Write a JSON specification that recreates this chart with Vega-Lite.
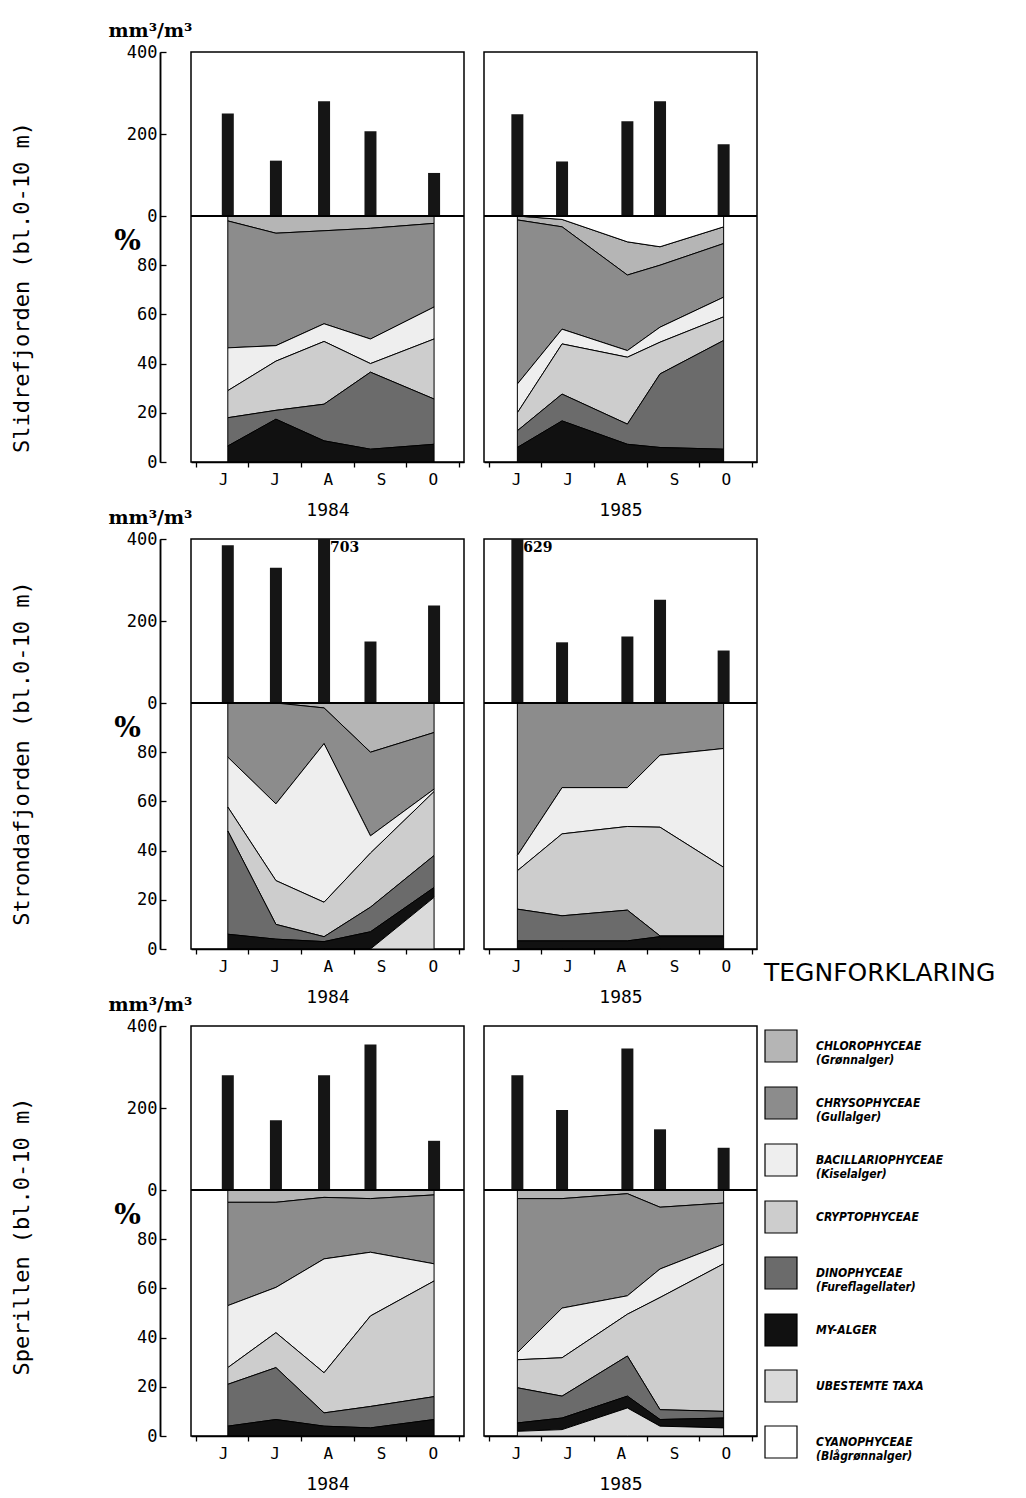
{
  "$schema": "https://vega.github.io/schema/vega-lite/v6.json",
  "background": "white",
  "padding": {"left": 9, "top": 20, "right": 5, "bottom": 5},
  "data": {"values": [
    {"lake":"Slidrefjorden","year":1984,"date":"1984-06-19T12:00","vol":250,"CHLOROPHYCEAE (Grønnalger)":2,"CHRYSOPHYCEAE (Gullalger)":51.6,"BACILLARIOPHYCEAE (Kiselalger)":17.4,"CRYPTOPHYCEAE":11,"DINOPHYCEAE (Fureflagellater)":11.5,"MY-ALGER":6.5,"UBESTEMTE TAXA":0,"CYANOPHYCEAE (Blågrønnalger)":0},
    {"lake":"Slidrefjorden","year":1984,"date":"1984-07-17T12:00","vol":135,"CHLOROPHYCEAE (Grønnalger)":7,"CHRYSOPHYCEAE (Gullalger)":45.7,"BACILLARIOPHYCEAE (Kiselalger)":6.3,"CRYPTOPHYCEAE":20,"DINOPHYCEAE (Fureflagellater)":3.6,"MY-ALGER":17.4,"UBESTEMTE TAXA":0,"CYANOPHYCEAE (Blågrønnalger)":0},
    {"lake":"Slidrefjorden","year":1984,"date":"1984-08-14T12:00","vol":280,"CHLOROPHYCEAE (Grønnalger)":6,"CHRYSOPHYCEAE (Gullalger)":37.8,"BACILLARIOPHYCEAE (Kiselalger)":7.2,"CRYPTOPHYCEAE":25.5,"DINOPHYCEAE (Fureflagellater)":14.9,"MY-ALGER":8.6,"UBESTEMTE TAXA":0,"CYANOPHYCEAE (Blågrønnalger)":0},
    {"lake":"Slidrefjorden","year":1984,"date":"1984-09-10T12:00","vol":207,"CHLOROPHYCEAE (Grønnalger)":5,"CHRYSOPHYCEAE (Gullalger)":45,"BACILLARIOPHYCEAE (Kiselalger)":10,"CRYPTOPHYCEAE":3.5,"DINOPHYCEAE (Fureflagellater)":31.3,"MY-ALGER":5.2,"UBESTEMTE TAXA":0,"CYANOPHYCEAE (Blågrønnalger)":0},
    {"lake":"Slidrefjorden","year":1984,"date":"1984-10-17T12:00","vol":105,"CHLOROPHYCEAE (Grønnalger)":3,"CHRYSOPHYCEAE (Gullalger)":34,"BACILLARIOPHYCEAE (Kiselalger)":13,"CRYPTOPHYCEAE":24.4,"DINOPHYCEAE (Fureflagellater)":18.4,"MY-ALGER":7.2,"UBESTEMTE TAXA":0,"CYANOPHYCEAE (Blågrønnalger)":0},
    {"lake":"Slidrefjorden","year":1985,"date":"1985-06-17T12:00","vol":248,"CHLOROPHYCEAE (Grønnalger)":1.6,"CHRYSOPHYCEAE (Gullalger)":66.7,"BACILLARIOPHYCEAE (Kiselalger)":11.7,"CRYPTOPHYCEAE":7.3,"DINOPHYCEAE (Fureflagellater)":6.8,"MY-ALGER":5.9,"UBESTEMTE TAXA":0,"CYANOPHYCEAE (Blågrønnalger)":0},
    {"lake":"Slidrefjorden","year":1985,"date":"1985-07-13T12:00","vol":133,"CHLOROPHYCEAE (Grønnalger)":3,"CHRYSOPHYCEAE (Gullalger)":41.6,"BACILLARIOPHYCEAE (Kiselalger)":6,"CRYPTOPHYCEAE":20.4,"DINOPHYCEAE (Fureflagellater)":10.9,"MY-ALGER":16.7,"UBESTEMTE TAXA":0,"CYANOPHYCEAE (Blågrønnalger)":1.4},
    {"lake":"Slidrefjorden","year":1985,"date":"1985-08-20T12:00","vol":231,"CHLOROPHYCEAE (Grønnalger)":13.5,"CHRYSOPHYCEAE (Gullalger)":30.7,"BACILLARIOPHYCEAE (Kiselalger)":2.7,"CRYPTOPHYCEAE":27.2,"DINOPHYCEAE (Fureflagellater)":8.2,"MY-ALGER":7.2,"UBESTEMTE TAXA":0,"CYANOPHYCEAE (Blågrønnalger)":10.5},
    {"lake":"Slidrefjorden","year":1985,"date":"1985-09-08T12:00","vol":280,"CHLOROPHYCEAE (Grønnalger)":7.5,"CHRYSOPHYCEAE (Gullalger)":25.2,"BACILLARIOPHYCEAE (Kiselalger)":6.1,"CRYPTOPHYCEAE":12.9,"DINOPHYCEAE (Fureflagellater)":29.9,"MY-ALGER":5.9,"UBESTEMTE TAXA":0,"CYANOPHYCEAE (Blågrønnalger)":12.5},
    {"lake":"Slidrefjorden","year":1985,"date":"1985-10-15T12:00","vol":175,"CHLOROPHYCEAE (Grønnalger)":6.8,"CHRYSOPHYCEAE (Gullalger)":21.8,"BACILLARIOPHYCEAE (Kiselalger)":8,"CRYPTOPHYCEAE":9.6,"DINOPHYCEAE (Fureflagellater)":44.2,"MY-ALGER":5.2,"UBESTEMTE TAXA":0,"CYANOPHYCEAE (Blågrønnalger)":4.4},
    {"lake":"Strondafjorden","year":1984,"date":"1984-06-19T12:00","vol":385,"CHLOROPHYCEAE (Grønnalger)":0,"CHRYSOPHYCEAE (Gullalger)":22,"BACILLARIOPHYCEAE (Kiselalger)":20.3,"CRYPTOPHYCEAE":9.7,"DINOPHYCEAE (Fureflagellater)":42,"MY-ALGER":6,"UBESTEMTE TAXA":0,"CYANOPHYCEAE (Blågrønnalger)":0},
    {"lake":"Strondafjorden","year":1984,"date":"1984-07-17T12:00","vol":330,"CHLOROPHYCEAE (Grønnalger)":0,"CHRYSOPHYCEAE (Gullalger)":41,"BACILLARIOPHYCEAE (Kiselalger)":31.2,"CRYPTOPHYCEAE":17.8,"DINOPHYCEAE (Fureflagellater)":6,"MY-ALGER":4,"UBESTEMTE TAXA":0,"CYANOPHYCEAE (Blågrønnalger)":0},
    {"lake":"Strondafjorden","year":1984,"date":"1984-08-14T12:00","vol":703,"CHLOROPHYCEAE (Grønnalger)":2,"CHRYSOPHYCEAE (Gullalger)":14.5,"BACILLARIOPHYCEAE (Kiselalger)":64.5,"CRYPTOPHYCEAE":14,"DINOPHYCEAE (Fureflagellater)":2,"MY-ALGER":3,"UBESTEMTE TAXA":0,"CYANOPHYCEAE (Blågrønnalger)":0},
    {"lake":"Strondafjorden","year":1984,"date":"1984-09-10T12:00","vol":150,"CHLOROPHYCEAE (Grønnalger)":20,"CHRYSOPHYCEAE (Gullalger)":34,"BACILLARIOPHYCEAE (Kiselalger)":7,"CRYPTOPHYCEAE":22,"DINOPHYCEAE (Fureflagellater)":10,"MY-ALGER":7,"UBESTEMTE TAXA":0,"CYANOPHYCEAE (Blågrønnalger)":0},
    {"lake":"Strondafjorden","year":1984,"date":"1984-10-17T12:00","vol":238,"CHLOROPHYCEAE (Grønnalger)":12,"CHRYSOPHYCEAE (Gullalger)":23,"BACILLARIOPHYCEAE (Kiselalger)":1,"CRYPTOPHYCEAE":26,"DINOPHYCEAE (Fureflagellater)":13,"MY-ALGER":4,"UBESTEMTE TAXA":21,"CYANOPHYCEAE (Blågrønnalger)":0},
    {"lake":"Strondafjorden","year":1985,"date":"1985-06-17T12:00","vol":629,"CHLOROPHYCEAE (Grønnalger)":0,"CHRYSOPHYCEAE (Gullalger)":62,"BACILLARIOPHYCEAE (Kiselalger)":6.2,"CRYPTOPHYCEAE":15.6,"DINOPHYCEAE (Fureflagellater)":12.9,"MY-ALGER":3.3,"UBESTEMTE TAXA":0,"CYANOPHYCEAE (Blågrønnalger)":0},
    {"lake":"Strondafjorden","year":1985,"date":"1985-07-13T12:00","vol":148,"CHLOROPHYCEAE (Grønnalger)":0,"CHRYSOPHYCEAE (Gullalger)":34.4,"BACILLARIOPHYCEAE (Kiselalger)":18.8,"CRYPTOPHYCEAE":33.3,"DINOPHYCEAE (Fureflagellater)":10.2,"MY-ALGER":3.3,"UBESTEMTE TAXA":0,"CYANOPHYCEAE (Blågrønnalger)":0},
    {"lake":"Strondafjorden","year":1985,"date":"1985-08-20T12:00","vol":162,"CHLOROPHYCEAE (Grønnalger)":0,"CHRYSOPHYCEAE (Gullalger)":34.4,"BACILLARIOPHYCEAE (Kiselalger)":15.8,"CRYPTOPHYCEAE":34,"DINOPHYCEAE (Fureflagellater)":12.5,"MY-ALGER":3.3,"UBESTEMTE TAXA":0,"CYANOPHYCEAE (Blågrønnalger)":0},
    {"lake":"Strondafjorden","year":1985,"date":"1985-09-08T12:00","vol":252,"CHLOROPHYCEAE (Grønnalger)":0,"CHRYSOPHYCEAE (Gullalger)":21.2,"BACILLARIOPHYCEAE (Kiselalger)":29.3,"CRYPTOPHYCEAE":44.2,"DINOPHYCEAE (Fureflagellater)":0.3,"MY-ALGER":5,"UBESTEMTE TAXA":0,"CYANOPHYCEAE (Blågrønnalger)":0},
    {"lake":"Strondafjorden","year":1985,"date":"1985-10-15T12:00","vol":128,"CHLOROPHYCEAE (Grønnalger)":0,"CHRYSOPHYCEAE (Gullalger)":18.5,"BACILLARIOPHYCEAE (Kiselalger)":48.3,"CRYPTOPHYCEAE":27.9,"DINOPHYCEAE (Fureflagellater)":0.3,"MY-ALGER":5,"UBESTEMTE TAXA":0,"CYANOPHYCEAE (Blågrønnalger)":0},
    {"lake":"Sperillen","year":1984,"date":"1984-06-19T12:00","vol":280,"CHLOROPHYCEAE (Grønnalger)":5,"CHRYSOPHYCEAE (Gullalger)":42,"BACILLARIOPHYCEAE (Kiselalger)":25.2,"CRYPTOPHYCEAE":6.8,"DINOPHYCEAE (Fureflagellater)":17,"MY-ALGER":4,"UBESTEMTE TAXA":0,"CYANOPHYCEAE (Blågrønnalger)":0},
    {"lake":"Sperillen","year":1984,"date":"1984-07-17T12:00","vol":170,"CHLOROPHYCEAE (Grønnalger)":5,"CHRYSOPHYCEAE (Gullalger)":34.6,"BACILLARIOPHYCEAE (Kiselalger)":18.4,"CRYPTOPHYCEAE":14.2,"DINOPHYCEAE (Fureflagellater)":21.1,"MY-ALGER":6.7,"UBESTEMTE TAXA":0,"CYANOPHYCEAE (Blågrønnalger)":0},
    {"lake":"Sperillen","year":1984,"date":"1984-08-14T12:00","vol":280,"CHLOROPHYCEAE (Grønnalger)":3,"CHRYSOPHYCEAE (Gullalger)":25,"BACILLARIOPHYCEAE (Kiselalger)":46.3,"CRYPTOPHYCEAE":16.3,"DINOPHYCEAE (Fureflagellater)":5.4,"MY-ALGER":4,"UBESTEMTE TAXA":0,"CYANOPHYCEAE (Blågrønnalger)":0},
    {"lake":"Sperillen","year":1984,"date":"1984-09-10T12:00","vol":355,"CHLOROPHYCEAE (Grønnalger)":3.5,"CHRYSOPHYCEAE (Gullalger)":21.8,"BACILLARIOPHYCEAE (Kiselalger)":25.9,"CRYPTOPHYCEAE":36.8,"DINOPHYCEAE (Fureflagellater)":8.7,"MY-ALGER":3.3,"UBESTEMTE TAXA":0,"CYANOPHYCEAE (Blågrønnalger)":0},
    {"lake":"Sperillen","year":1984,"date":"1984-10-17T12:00","vol":120,"CHLOROPHYCEAE (Grønnalger)":2,"CHRYSOPHYCEAE (Gullalger)":28,"BACILLARIOPHYCEAE (Kiselalger)":7,"CRYPTOPHYCEAE":47,"DINOPHYCEAE (Fureflagellater)":9.3,"MY-ALGER":6.7,"UBESTEMTE TAXA":0,"CYANOPHYCEAE (Blågrønnalger)":0},
    {"lake":"Sperillen","year":1985,"date":"1985-06-17T12:00","vol":280,"CHLOROPHYCEAE (Grønnalger)":3.5,"CHRYSOPHYCEAE (Gullalger)":62.6,"BACILLARIOPHYCEAE (Kiselalger)":2.9,"CRYPTOPHYCEAE":11.4,"DINOPHYCEAE (Fureflagellater)":14.3,"MY-ALGER":3.4,"UBESTEMTE TAXA":1.9,"CYANOPHYCEAE (Blågrønnalger)":0},
    {"lake":"Sperillen","year":1985,"date":"1985-07-13T12:00","vol":195,"CHLOROPHYCEAE (Grønnalger)":3.5,"CHRYSOPHYCEAE (Gullalger)":44.5,"BACILLARIOPHYCEAE (Kiselalger)":20.2,"CRYPTOPHYCEAE":15.6,"DINOPHYCEAE (Fureflagellater)":8.9,"MY-ALGER":4.7,"UBESTEMTE TAXA":2.6,"CYANOPHYCEAE (Blågrønnalger)":0},
    {"lake":"Sperillen","year":1985,"date":"1985-08-20T12:00","vol":345,"CHLOROPHYCEAE (Grønnalger)":1.5,"CHRYSOPHYCEAE (Gullalger)":41.5,"BACILLARIOPHYCEAE (Kiselalger)":7.5,"CRYPTOPHYCEAE":17,"DINOPHYCEAE (Fureflagellater)":16.3,"MY-ALGER":4.8,"UBESTEMTE TAXA":11.4,"CYANOPHYCEAE (Blågrønnalger)":0},
    {"lake":"Sperillen","year":1985,"date":"1985-09-08T12:00","vol":148,"CHLOROPHYCEAE (Grønnalger)":7,"CHRYSOPHYCEAE (Gullalger)":25.1,"BACILLARIOPHYCEAE (Kiselalger)":11.6,"CRYPTOPHYCEAE":45.6,"DINOPHYCEAE (Fureflagellater)":4,"MY-ALGER":2.7,"UBESTEMTE TAXA":4,"CYANOPHYCEAE (Blågrønnalger)":0},
    {"lake":"Sperillen","year":1985,"date":"1985-10-15T12:00","vol":103,"CHLOROPHYCEAE (Grønnalger)":5.3,"CHRYSOPHYCEAE (Gullalger)":16.7,"BACILLARIOPHYCEAE (Kiselalger)":8,"CRYPTOPHYCEAE":60,"DINOPHYCEAE (Fureflagellater)":2.7,"MY-ALGER":4,"UBESTEMTE TAXA":3.3,"CYANOPHYCEAE (Blågrønnalger)":0}
  ]},
  "config": {
    "view": {"stroke": "black", "strokeWidth": 1.5},
    "font": "DejaVu Sans Mono",
    "axis": {"grid": false, "domainColor": "black", "domainWidth": 1.5, "tickColor": "black", "tickWidth": 1.3, "labelColor": "black", "titleColor": "black", "labelFont": "DejaVu Sans Mono", "titleFont": "DejaVu Sans Mono", "titleFontWeight": "normal"}
  },
  "bounds": "flush",
  "columns": 2,
  "spacing": {"row": 77, "column": 20},
  "concat": [
    {
      "width": 273, "height": 410,
      "transform": [{"filter": "datum.lake === 'Slidrefjorden' && datum.year === 1984"}],
      "layer": [
        {
          "transform": [
            {"fold": ["CHLOROPHYCEAE (Grønnalger)","CHRYSOPHYCEAE (Gullalger)","BACILLARIOPHYCEAE (Kiselalger)","CRYPTOPHYCEAE","DINOPHYCEAE (Fureflagellater)","MY-ALGER","UBESTEMTE TAXA","CYANOPHYCEAE (Blågrønnalger)"], "as": ["group", "pct"]},
            {"calculate": "indexof(['UBESTEMTE TAXA','MY-ALGER','DINOPHYCEAE (Fureflagellater)','CRYPTOPHYCEAE','BACILLARIOPHYCEAE (Kiselalger)','CHRYSOPHYCEAE (Gullalger)','CHLOROPHYCEAE (Grønnalger)','CYANOPHYCEAE (Blågrønnalger)'], datum.group)", "as": "stackOrder"}
          ],
          "mark": {"type": "area", "stroke": "black", "strokeWidth": 1, "fillOpacity": 1},
          "encoding": {
            "x": {"field": "date", "type": "temporal", "scale": {"domain": [{"year":1984,"month":6,"date":1},{"year":1984,"month":11,"date":1}], "nice": false},
                  "axis": {"title": "1984", "tickCount": {"interval": "month", "step": 1}, "labelExpr": "month(datum.value) == 10 ? '' : substring(timeFormat(datum.value, '%B'), 0, 1)", "labelOffset": 27, "labelFlush": false, "labelOverlap": false, "labelPadding": 4, "tickSize": 5, "labelFontSize": 16, "titleFontSize": 18, "titlePadding": 14}},
            "y": {"field": "pct", "type": "quantitative", "stack": "zero", "scale": {"domain": [0, 166.67], "nice": false},
                  "axis": {"orient": "left", "offset": 31, "values": [0,20,40,60,80], "tickSize": -6, "labelPadding": 9, "labelFontSize": 17, "title": "%", "titleAngle": 0, "titleFont": "DejaVu Serif", "titleFontWeight": "bold", "titleFontSize": 28, "titleAlign": "center", "titleBaseline": "middle", "titleX": -33, "titleY": 189}},
            "color": {"field": "group", "type": "nominal", "title": "TEGNFORKLARING",
                      "scale": {"domain": ["CHLOROPHYCEAE (Grønnalger)","CHRYSOPHYCEAE (Gullalger)","BACILLARIOPHYCEAE (Kiselalger)","CRYPTOPHYCEAE","DINOPHYCEAE (Fureflagellater)","MY-ALGER","UBESTEMTE TAXA","CYANOPHYCEAE (Blågrønnalger)"], "range": ["#b5b5b5","#8c8c8c","#eeeeee","#cdcdcd","#6b6b6b","#111111","#dadada","#ffffff"]},
                      "legend": {"orient": "none", "legendX": 573, "legendY": 909, "padding": 0, "symbolType": "square", "symbolSize": 1024, "symbolStrokeColor": "black", "symbolStrokeWidth": 1.2, "symbolOpacity": 1, "labelFont": "DejaVu Sans Condensed, DejaVu Sans", "labelFontStyle": "italic", "labelFontWeight": "bold", "labelFontSize": 12, "labelColor": "black", "labelOffset": 18, "labelLimit": 400, "rowPadding": 18, "titleFont": "DejaVu Sans", "titleFontSize": 25, "titleFontWeight": "normal", "titleColor": "black", "titlePadding": 43, "titleLimit": 400, "labelExpr": "indexof(datum.label, ' (') > 0 ? [substring(datum.label, 0, indexof(datum.label, ' (')), substring(datum.label, indexof(datum.label, ' (') + 1)] : datum.label"}},
            "order": {"field": "stackOrder", "type": "quantitative"}
          }
        },
        {
          "mark": {"type": "bar", "color": "#151515", "size": 12},
          "encoding": {
            "x": {"field": "date", "type": "temporal", "scale": {"domain": [{"year":1984,"month":6,"date":1},{"year":1984,"month":11,"date":1}], "nice": false}},
            "y": {"field": "vol", "type": "quantitative", "scale": {"domain": [-600, 400], "clamp": true, "nice": false},
                  "axis": {"orient": "left", "offset": 31, "values": [0,200,400], "tickSize": -6, "labelPadding": 9, "labelFontSize": 17, "title": "mm³/m³", "titleAngle": 0, "titleFont": "DejaVu Serif", "titleFontWeight": "bold", "titleFontSize": 19, "titleAlign": "left", "titleBaseline": "alphabetic", "titleX": -52, "titleY": -16}}
          }
        },
        {
          "transform": [{"filter": "datum.vol > 400"}],
          "mark": {"type": "text", "align": "left", "baseline": "top", "dx": 6, "dy": 2, "font": "DejaVu Serif", "fontWeight": "bold", "fontSize": 14, "color": "black"},
          "encoding": {
            "x": {"field": "date", "type": "temporal", "scale": {"domain": [{"year":1984,"month":6,"date":1},{"year":1984,"month":11,"date":1}], "nice": false}},
            "y": {"field": "vol", "type": "quantitative", "scale": {"domain": [-600, 400], "clamp": true, "nice": false}, "axis": null},
            "text": {"field": "vol", "type": "quantitative"}
          }
        },
        {
          "mark": {"type": "rule", "color": "black", "strokeWidth": 1.5},
          "encoding": {"y": {"datum": 0, "type": "quantitative", "scale": {"domain": [-600, 400], "nice": false},
                             "axis": {"orient": "left", "offset": 31, "domain": false, "ticks": false, "labels": false, "title": "Slidrefjorden (bl.0-10 m)", "titleAngle": -90, "titleAlign": "center", "titleBaseline": "middle", "titleX": -139, "titleY": 235, "titleFontSize": 22}}}
        }
      ],
      "resolve": {"scale": {"y": "independent"}}
    },
    {
      "width": 273, "height": 410,
      "transform": [{"filter": "datum.lake === 'Slidrefjorden' && datum.year === 1985"}],
      "layer": [
        {
          "transform": [
            {"fold": ["CHLOROPHYCEAE (Grønnalger)","CHRYSOPHYCEAE (Gullalger)","BACILLARIOPHYCEAE (Kiselalger)","CRYPTOPHYCEAE","DINOPHYCEAE (Fureflagellater)","MY-ALGER","UBESTEMTE TAXA","CYANOPHYCEAE (Blågrønnalger)"], "as": ["group", "pct"]},
            {"calculate": "indexof(['UBESTEMTE TAXA','MY-ALGER','DINOPHYCEAE (Fureflagellater)','CRYPTOPHYCEAE','BACILLARIOPHYCEAE (Kiselalger)','CHRYSOPHYCEAE (Gullalger)','CHLOROPHYCEAE (Grønnalger)','CYANOPHYCEAE (Blågrønnalger)'], datum.group)", "as": "stackOrder"}
          ],
          "mark": {"type": "area", "stroke": "black", "strokeWidth": 1, "fillOpacity": 1},
          "encoding": {
            "x": {"field": "date", "type": "temporal", "scale": {"domain": [{"year":1985,"month":6,"date":1},{"year":1985,"month":11,"date":1}], "nice": false},
                  "axis": {"title": "1985", "tickCount": {"interval": "month", "step": 1}, "labelExpr": "month(datum.value) == 10 ? '' : substring(timeFormat(datum.value, '%B'), 0, 1)", "labelOffset": 27, "labelFlush": false, "labelOverlap": false, "labelPadding": 4, "tickSize": 5, "labelFontSize": 16, "titleFontSize": 18, "titlePadding": 14}},
            "y": {"field": "pct", "type": "quantitative", "stack": "zero", "scale": {"domain": [0, 166.67], "nice": false}, "axis": null},
            "color": {"field": "group", "type": "nominal", "title": "TEGNFORKLARING",
                      "scale": {"domain": ["CHLOROPHYCEAE (Grønnalger)","CHRYSOPHYCEAE (Gullalger)","BACILLARIOPHYCEAE (Kiselalger)","CRYPTOPHYCEAE","DINOPHYCEAE (Fureflagellater)","MY-ALGER","UBESTEMTE TAXA","CYANOPHYCEAE (Blågrønnalger)"], "range": ["#b5b5b5","#8c8c8c","#eeeeee","#cdcdcd","#6b6b6b","#111111","#dadada","#ffffff"]},
                      "legend": {"orient": "none", "legendX": 573, "legendY": 909, "padding": 0, "symbolType": "square", "symbolSize": 1024, "symbolStrokeColor": "black", "symbolStrokeWidth": 1.2, "symbolOpacity": 1, "labelFont": "DejaVu Sans Condensed, DejaVu Sans", "labelFontStyle": "italic", "labelFontWeight": "bold", "labelFontSize": 12, "labelColor": "black", "labelOffset": 18, "labelLimit": 400, "rowPadding": 18, "titleFont": "DejaVu Sans", "titleFontSize": 25, "titleFontWeight": "normal", "titleColor": "black", "titlePadding": 43, "titleLimit": 400, "labelExpr": "indexof(datum.label, ' (') > 0 ? [substring(datum.label, 0, indexof(datum.label, ' (')), substring(datum.label, indexof(datum.label, ' (') + 1)] : datum.label"}},
            "order": {"field": "stackOrder", "type": "quantitative"}
          }
        },
        {
          "mark": {"type": "bar", "color": "#151515", "size": 12},
          "encoding": {
            "x": {"field": "date", "type": "temporal", "scale": {"domain": [{"year":1985,"month":6,"date":1},{"year":1985,"month":11,"date":1}], "nice": false}},
            "y": {"field": "vol", "type": "quantitative", "scale": {"domain": [-600, 400], "clamp": true, "nice": false}, "axis": null}
          }
        },
        {
          "transform": [{"filter": "datum.vol > 400"}],
          "mark": {"type": "text", "align": "left", "baseline": "top", "dx": 6, "dy": 2, "font": "DejaVu Serif", "fontWeight": "bold", "fontSize": 14, "color": "black"},
          "encoding": {
            "x": {"field": "date", "type": "temporal", "scale": {"domain": [{"year":1985,"month":6,"date":1},{"year":1985,"month":11,"date":1}], "nice": false}},
            "y": {"field": "vol", "type": "quantitative", "scale": {"domain": [-600, 400], "clamp": true, "nice": false}, "axis": null},
            "text": {"field": "vol", "type": "quantitative"}
          }
        },
        {
          "mark": {"type": "rule", "color": "black", "strokeWidth": 1.5},
          "encoding": {"y": {"datum": 0, "type": "quantitative", "scale": {"domain": [-600, 400], "nice": false}, "axis": null}}
        }
      ],
      "resolve": {"scale": {"y": "independent"}}
    },
    {
      "width": 273, "height": 410,
      "transform": [{"filter": "datum.lake === 'Strondafjorden' && datum.year === 1984"}],
      "layer": [
        {
          "transform": [
            {"fold": ["CHLOROPHYCEAE (Grønnalger)","CHRYSOPHYCEAE (Gullalger)","BACILLARIOPHYCEAE (Kiselalger)","CRYPTOPHYCEAE","DINOPHYCEAE (Fureflagellater)","MY-ALGER","UBESTEMTE TAXA","CYANOPHYCEAE (Blågrønnalger)"], "as": ["group", "pct"]},
            {"calculate": "indexof(['UBESTEMTE TAXA','MY-ALGER','DINOPHYCEAE (Fureflagellater)','CRYPTOPHYCEAE','BACILLARIOPHYCEAE (Kiselalger)','CHRYSOPHYCEAE (Gullalger)','CHLOROPHYCEAE (Grønnalger)','CYANOPHYCEAE (Blågrønnalger)'], datum.group)", "as": "stackOrder"}
          ],
          "mark": {"type": "area", "stroke": "black", "strokeWidth": 1, "fillOpacity": 1},
          "encoding": {
            "x": {"field": "date", "type": "temporal", "scale": {"domain": [{"year":1984,"month":6,"date":1},{"year":1984,"month":11,"date":1}], "nice": false},
                  "axis": {"title": "1984", "tickCount": {"interval": "month", "step": 1}, "labelExpr": "month(datum.value) == 10 ? '' : substring(timeFormat(datum.value, '%B'), 0, 1)", "labelOffset": 27, "labelFlush": false, "labelOverlap": false, "labelPadding": 4, "tickSize": 5, "labelFontSize": 16, "titleFontSize": 18, "titlePadding": 14}},
            "y": {"field": "pct", "type": "quantitative", "stack": "zero", "scale": {"domain": [0, 166.67], "nice": false},
                  "axis": {"orient": "left", "offset": 31, "values": [0,20,40,60,80], "tickSize": -6, "labelPadding": 9, "labelFontSize": 17, "title": "%", "titleAngle": 0, "titleFont": "DejaVu Serif", "titleFontWeight": "bold", "titleFontSize": 28, "titleAlign": "center", "titleBaseline": "middle", "titleX": -33, "titleY": 189}},
            "color": {"field": "group", "type": "nominal", "title": "TEGNFORKLARING",
                      "scale": {"domain": ["CHLOROPHYCEAE (Grønnalger)","CHRYSOPHYCEAE (Gullalger)","BACILLARIOPHYCEAE (Kiselalger)","CRYPTOPHYCEAE","DINOPHYCEAE (Fureflagellater)","MY-ALGER","UBESTEMTE TAXA","CYANOPHYCEAE (Blågrønnalger)"], "range": ["#b5b5b5","#8c8c8c","#eeeeee","#cdcdcd","#6b6b6b","#111111","#dadada","#ffffff"]},
                      "legend": {"orient": "none", "legendX": 573, "legendY": 909, "padding": 0, "symbolType": "square", "symbolSize": 1024, "symbolStrokeColor": "black", "symbolStrokeWidth": 1.2, "symbolOpacity": 1, "labelFont": "DejaVu Sans Condensed, DejaVu Sans", "labelFontStyle": "italic", "labelFontWeight": "bold", "labelFontSize": 12, "labelColor": "black", "labelOffset": 18, "labelLimit": 400, "rowPadding": 18, "titleFont": "DejaVu Sans", "titleFontSize": 25, "titleFontWeight": "normal", "titleColor": "black", "titlePadding": 43, "titleLimit": 400, "labelExpr": "indexof(datum.label, ' (') > 0 ? [substring(datum.label, 0, indexof(datum.label, ' (')), substring(datum.label, indexof(datum.label, ' (') + 1)] : datum.label"}},
            "order": {"field": "stackOrder", "type": "quantitative"}
          }
        },
        {
          "mark": {"type": "bar", "color": "#151515", "size": 12},
          "encoding": {
            "x": {"field": "date", "type": "temporal", "scale": {"domain": [{"year":1984,"month":6,"date":1},{"year":1984,"month":11,"date":1}], "nice": false}},
            "y": {"field": "vol", "type": "quantitative", "scale": {"domain": [-600, 400], "clamp": true, "nice": false},
                  "axis": {"orient": "left", "offset": 31, "values": [0,200,400], "tickSize": -6, "labelPadding": 9, "labelFontSize": 17, "title": "mm³/m³", "titleAngle": 0, "titleFont": "DejaVu Serif", "titleFontWeight": "bold", "titleFontSize": 19, "titleAlign": "left", "titleBaseline": "alphabetic", "titleX": -52, "titleY": -16}}
          }
        },
        {
          "transform": [{"filter": "datum.vol > 400"}],
          "mark": {"type": "text", "align": "left", "baseline": "top", "dx": 6, "dy": 2, "font": "DejaVu Serif", "fontWeight": "bold", "fontSize": 14, "color": "black"},
          "encoding": {
            "x": {"field": "date", "type": "temporal", "scale": {"domain": [{"year":1984,"month":6,"date":1},{"year":1984,"month":11,"date":1}], "nice": false}},
            "y": {"field": "vol", "type": "quantitative", "scale": {"domain": [-600, 400], "clamp": true, "nice": false}, "axis": null},
            "text": {"field": "vol", "type": "quantitative"}
          }
        },
        {
          "mark": {"type": "rule", "color": "black", "strokeWidth": 1.5},
          "encoding": {"y": {"datum": 0, "type": "quantitative", "scale": {"domain": [-600, 400], "nice": false},
                             "axis": {"orient": "left", "offset": 31, "domain": false, "ticks": false, "labels": false, "title": "Strondafjorden (bl.0-10 m)", "titleAngle": -90, "titleAlign": "center", "titleBaseline": "middle", "titleX": -139, "titleY": 214, "titleFontSize": 22}}}
        }
      ],
      "resolve": {"scale": {"y": "independent"}}
    },
    {
      "width": 273, "height": 410,
      "transform": [{"filter": "datum.lake === 'Strondafjorden' && datum.year === 1985"}],
      "layer": [
        {
          "transform": [
            {"fold": ["CHLOROPHYCEAE (Grønnalger)","CHRYSOPHYCEAE (Gullalger)","BACILLARIOPHYCEAE (Kiselalger)","CRYPTOPHYCEAE","DINOPHYCEAE (Fureflagellater)","MY-ALGER","UBESTEMTE TAXA","CYANOPHYCEAE (Blågrønnalger)"], "as": ["group", "pct"]},
            {"calculate": "indexof(['UBESTEMTE TAXA','MY-ALGER','DINOPHYCEAE (Fureflagellater)','CRYPTOPHYCEAE','BACILLARIOPHYCEAE (Kiselalger)','CHRYSOPHYCEAE (Gullalger)','CHLOROPHYCEAE (Grønnalger)','CYANOPHYCEAE (Blågrønnalger)'], datum.group)", "as": "stackOrder"}
          ],
          "mark": {"type": "area", "stroke": "black", "strokeWidth": 1, "fillOpacity": 1},
          "encoding": {
            "x": {"field": "date", "type": "temporal", "scale": {"domain": [{"year":1985,"month":6,"date":1},{"year":1985,"month":11,"date":1}], "nice": false},
                  "axis": {"title": "1985", "tickCount": {"interval": "month", "step": 1}, "labelExpr": "month(datum.value) == 10 ? '' : substring(timeFormat(datum.value, '%B'), 0, 1)", "labelOffset": 27, "labelFlush": false, "labelOverlap": false, "labelPadding": 4, "tickSize": 5, "labelFontSize": 16, "titleFontSize": 18, "titlePadding": 14}},
            "y": {"field": "pct", "type": "quantitative", "stack": "zero", "scale": {"domain": [0, 166.67], "nice": false}, "axis": null},
            "color": {"field": "group", "type": "nominal", "title": "TEGNFORKLARING",
                      "scale": {"domain": ["CHLOROPHYCEAE (Grønnalger)","CHRYSOPHYCEAE (Gullalger)","BACILLARIOPHYCEAE (Kiselalger)","CRYPTOPHYCEAE","DINOPHYCEAE (Fureflagellater)","MY-ALGER","UBESTEMTE TAXA","CYANOPHYCEAE (Blågrønnalger)"], "range": ["#b5b5b5","#8c8c8c","#eeeeee","#cdcdcd","#6b6b6b","#111111","#dadada","#ffffff"]},
                      "legend": {"orient": "none", "legendX": 573, "legendY": 909, "padding": 0, "symbolType": "square", "symbolSize": 1024, "symbolStrokeColor": "black", "symbolStrokeWidth": 1.2, "symbolOpacity": 1, "labelFont": "DejaVu Sans Condensed, DejaVu Sans", "labelFontStyle": "italic", "labelFontWeight": "bold", "labelFontSize": 12, "labelColor": "black", "labelOffset": 18, "labelLimit": 400, "rowPadding": 18, "titleFont": "DejaVu Sans", "titleFontSize": 25, "titleFontWeight": "normal", "titleColor": "black", "titlePadding": 43, "titleLimit": 400, "labelExpr": "indexof(datum.label, ' (') > 0 ? [substring(datum.label, 0, indexof(datum.label, ' (')), substring(datum.label, indexof(datum.label, ' (') + 1)] : datum.label"}},
            "order": {"field": "stackOrder", "type": "quantitative"}
          }
        },
        {
          "mark": {"type": "bar", "color": "#151515", "size": 12},
          "encoding": {
            "x": {"field": "date", "type": "temporal", "scale": {"domain": [{"year":1985,"month":6,"date":1},{"year":1985,"month":11,"date":1}], "nice": false}},
            "y": {"field": "vol", "type": "quantitative", "scale": {"domain": [-600, 400], "clamp": true, "nice": false}, "axis": null}
          }
        },
        {
          "transform": [{"filter": "datum.vol > 400"}],
          "mark": {"type": "text", "align": "left", "baseline": "top", "dx": 6, "dy": 2, "font": "DejaVu Serif", "fontWeight": "bold", "fontSize": 14, "color": "black"},
          "encoding": {
            "x": {"field": "date", "type": "temporal", "scale": {"domain": [{"year":1985,"month":6,"date":1},{"year":1985,"month":11,"date":1}], "nice": false}},
            "y": {"field": "vol", "type": "quantitative", "scale": {"domain": [-600, 400], "clamp": true, "nice": false}, "axis": null},
            "text": {"field": "vol", "type": "quantitative"}
          }
        },
        {
          "mark": {"type": "rule", "color": "black", "strokeWidth": 1.5},
          "encoding": {"y": {"datum": 0, "type": "quantitative", "scale": {"domain": [-600, 400], "nice": false}, "axis": null}}
        }
      ],
      "resolve": {"scale": {"y": "independent"}}
    },
    {
      "width": 273, "height": 410,
      "transform": [{"filter": "datum.lake === 'Sperillen' && datum.year === 1984"}],
      "layer": [
        {
          "transform": [
            {"fold": ["CHLOROPHYCEAE (Grønnalger)","CHRYSOPHYCEAE (Gullalger)","BACILLARIOPHYCEAE (Kiselalger)","CRYPTOPHYCEAE","DINOPHYCEAE (Fureflagellater)","MY-ALGER","UBESTEMTE TAXA","CYANOPHYCEAE (Blågrønnalger)"], "as": ["group", "pct"]},
            {"calculate": "indexof(['UBESTEMTE TAXA','MY-ALGER','DINOPHYCEAE (Fureflagellater)','CRYPTOPHYCEAE','BACILLARIOPHYCEAE (Kiselalger)','CHRYSOPHYCEAE (Gullalger)','CHLOROPHYCEAE (Grønnalger)','CYANOPHYCEAE (Blågrønnalger)'], datum.group)", "as": "stackOrder"}
          ],
          "mark": {"type": "area", "stroke": "black", "strokeWidth": 1, "fillOpacity": 1},
          "encoding": {
            "x": {"field": "date", "type": "temporal", "scale": {"domain": [{"year":1984,"month":6,"date":1},{"year":1984,"month":11,"date":1}], "nice": false},
                  "axis": {"title": "1984", "tickCount": {"interval": "month", "step": 1}, "labelExpr": "month(datum.value) == 10 ? '' : substring(timeFormat(datum.value, '%B'), 0, 1)", "labelOffset": 27, "labelFlush": false, "labelOverlap": false, "labelPadding": 4, "tickSize": 5, "labelFontSize": 16, "titleFontSize": 18, "titlePadding": 14}},
            "y": {"field": "pct", "type": "quantitative", "stack": "zero", "scale": {"domain": [0, 166.67], "nice": false},
                  "axis": {"orient": "left", "offset": 31, "values": [0,20,40,60,80], "tickSize": -6, "labelPadding": 9, "labelFontSize": 17, "title": "%", "titleAngle": 0, "titleFont": "DejaVu Serif", "titleFontWeight": "bold", "titleFontSize": 28, "titleAlign": "center", "titleBaseline": "middle", "titleX": -33, "titleY": 189}},
            "color": {"field": "group", "type": "nominal", "title": "TEGNFORKLARING",
                      "scale": {"domain": ["CHLOROPHYCEAE (Grønnalger)","CHRYSOPHYCEAE (Gullalger)","BACILLARIOPHYCEAE (Kiselalger)","CRYPTOPHYCEAE","DINOPHYCEAE (Fureflagellater)","MY-ALGER","UBESTEMTE TAXA","CYANOPHYCEAE (Blågrønnalger)"], "range": ["#b5b5b5","#8c8c8c","#eeeeee","#cdcdcd","#6b6b6b","#111111","#dadada","#ffffff"]},
                      "legend": {"orient": "none", "legendX": 573, "legendY": 909, "padding": 0, "symbolType": "square", "symbolSize": 1024, "symbolStrokeColor": "black", "symbolStrokeWidth": 1.2, "symbolOpacity": 1, "labelFont": "DejaVu Sans Condensed, DejaVu Sans", "labelFontStyle": "italic", "labelFontWeight": "bold", "labelFontSize": 12, "labelColor": "black", "labelOffset": 18, "labelLimit": 400, "rowPadding": 18, "titleFont": "DejaVu Sans", "titleFontSize": 25, "titleFontWeight": "normal", "titleColor": "black", "titlePadding": 43, "titleLimit": 400, "labelExpr": "indexof(datum.label, ' (') > 0 ? [substring(datum.label, 0, indexof(datum.label, ' (')), substring(datum.label, indexof(datum.label, ' (') + 1)] : datum.label"}},
            "order": {"field": "stackOrder", "type": "quantitative"}
          }
        },
        {
          "mark": {"type": "bar", "color": "#151515", "size": 12},
          "encoding": {
            "x": {"field": "date", "type": "temporal", "scale": {"domain": [{"year":1984,"month":6,"date":1},{"year":1984,"month":11,"date":1}], "nice": false}},
            "y": {"field": "vol", "type": "quantitative", "scale": {"domain": [-600, 400], "clamp": true, "nice": false},
                  "axis": {"orient": "left", "offset": 31, "values": [0,200,400], "tickSize": -6, "labelPadding": 9, "labelFontSize": 17, "title": "mm³/m³", "titleAngle": 0, "titleFont": "DejaVu Serif", "titleFontWeight": "bold", "titleFontSize": 19, "titleAlign": "left", "titleBaseline": "alphabetic", "titleX": -52, "titleY": -16}}
          }
        },
        {
          "transform": [{"filter": "datum.vol > 400"}],
          "mark": {"type": "text", "align": "left", "baseline": "top", "dx": 6, "dy": 2, "font": "DejaVu Serif", "fontWeight": "bold", "fontSize": 14, "color": "black"},
          "encoding": {
            "x": {"field": "date", "type": "temporal", "scale": {"domain": [{"year":1984,"month":6,"date":1},{"year":1984,"month":11,"date":1}], "nice": false}},
            "y": {"field": "vol", "type": "quantitative", "scale": {"domain": [-600, 400], "clamp": true, "nice": false}, "axis": null},
            "text": {"field": "vol", "type": "quantitative"}
          }
        },
        {
          "mark": {"type": "rule", "color": "black", "strokeWidth": 1.5},
          "encoding": {"y": {"datum": 0, "type": "quantitative", "scale": {"domain": [-600, 400], "nice": false},
                             "axis": {"orient": "left", "offset": 31, "domain": false, "ticks": false, "labels": false, "title": "Sperillen (bl.0-10 m)", "titleAngle": -90, "titleAlign": "center", "titleBaseline": "middle", "titleX": -139, "titleY": 210, "titleFontSize": 22}}}
        }
      ],
      "resolve": {"scale": {"y": "independent"}}
    },
    {
      "width": 273, "height": 410,
      "transform": [{"filter": "datum.lake === 'Sperillen' && datum.year === 1985"}],
      "layer": [
        {
          "transform": [
            {"fold": ["CHLOROPHYCEAE (Grønnalger)","CHRYSOPHYCEAE (Gullalger)","BACILLARIOPHYCEAE (Kiselalger)","CRYPTOPHYCEAE","DINOPHYCEAE (Fureflagellater)","MY-ALGER","UBESTEMTE TAXA","CYANOPHYCEAE (Blågrønnalger)"], "as": ["group", "pct"]},
            {"calculate": "indexof(['UBESTEMTE TAXA','MY-ALGER','DINOPHYCEAE (Fureflagellater)','CRYPTOPHYCEAE','BACILLARIOPHYCEAE (Kiselalger)','CHRYSOPHYCEAE (Gullalger)','CHLOROPHYCEAE (Grønnalger)','CYANOPHYCEAE (Blågrønnalger)'], datum.group)", "as": "stackOrder"}
          ],
          "mark": {"type": "area", "stroke": "black", "strokeWidth": 1, "fillOpacity": 1},
          "encoding": {
            "x": {"field": "date", "type": "temporal", "scale": {"domain": [{"year":1985,"month":6,"date":1},{"year":1985,"month":11,"date":1}], "nice": false},
                  "axis": {"title": "1985", "tickCount": {"interval": "month", "step": 1}, "labelExpr": "month(datum.value) == 10 ? '' : substring(timeFormat(datum.value, '%B'), 0, 1)", "labelOffset": 27, "labelFlush": false, "labelOverlap": false, "labelPadding": 4, "tickSize": 5, "labelFontSize": 16, "titleFontSize": 18, "titlePadding": 14}},
            "y": {"field": "pct", "type": "quantitative", "stack": "zero", "scale": {"domain": [0, 166.67], "nice": false}, "axis": null},
            "color": {"field": "group", "type": "nominal", "title": "TEGNFORKLARING",
                      "scale": {"domain": ["CHLOROPHYCEAE (Grønnalger)","CHRYSOPHYCEAE (Gullalger)","BACILLARIOPHYCEAE (Kiselalger)","CRYPTOPHYCEAE","DINOPHYCEAE (Fureflagellater)","MY-ALGER","UBESTEMTE TAXA","CYANOPHYCEAE (Blågrønnalger)"], "range": ["#b5b5b5","#8c8c8c","#eeeeee","#cdcdcd","#6b6b6b","#111111","#dadada","#ffffff"]},
                      "legend": {"orient": "none", "legendX": 573, "legendY": 909, "padding": 0, "symbolType": "square", "symbolSize": 1024, "symbolStrokeColor": "black", "symbolStrokeWidth": 1.2, "symbolOpacity": 1, "labelFont": "DejaVu Sans Condensed, DejaVu Sans", "labelFontStyle": "italic", "labelFontWeight": "bold", "labelFontSize": 12, "labelColor": "black", "labelOffset": 18, "labelLimit": 400, "rowPadding": 18, "titleFont": "DejaVu Sans", "titleFontSize": 25, "titleFontWeight": "normal", "titleColor": "black", "titlePadding": 43, "titleLimit": 400, "labelExpr": "indexof(datum.label, ' (') > 0 ? [substring(datum.label, 0, indexof(datum.label, ' (')), substring(datum.label, indexof(datum.label, ' (') + 1)] : datum.label"}},
            "order": {"field": "stackOrder", "type": "quantitative"}
          }
        },
        {
          "mark": {"type": "bar", "color": "#151515", "size": 12},
          "encoding": {
            "x": {"field": "date", "type": "temporal", "scale": {"domain": [{"year":1985,"month":6,"date":1},{"year":1985,"month":11,"date":1}], "nice": false}},
            "y": {"field": "vol", "type": "quantitative", "scale": {"domain": [-600, 400], "clamp": true, "nice": false}, "axis": null}
          }
        },
        {
          "transform": [{"filter": "datum.vol > 400"}],
          "mark": {"type": "text", "align": "left", "baseline": "top", "dx": 6, "dy": 2, "font": "DejaVu Serif", "fontWeight": "bold", "fontSize": 14, "color": "black"},
          "encoding": {
            "x": {"field": "date", "type": "temporal", "scale": {"domain": [{"year":1985,"month":6,"date":1},{"year":1985,"month":11,"date":1}], "nice": false}},
            "y": {"field": "vol", "type": "quantitative", "scale": {"domain": [-600, 400], "clamp": true, "nice": false}, "axis": null},
            "text": {"field": "vol", "type": "quantitative"}
          }
        },
        {
          "mark": {"type": "rule", "color": "black", "strokeWidth": 1.5},
          "encoding": {"y": {"datum": 0, "type": "quantitative", "scale": {"domain": [-600, 400], "nice": false}, "axis": null}}
        }
      ],
      "resolve": {"scale": {"y": "independent"}}
    }
  ]
}
